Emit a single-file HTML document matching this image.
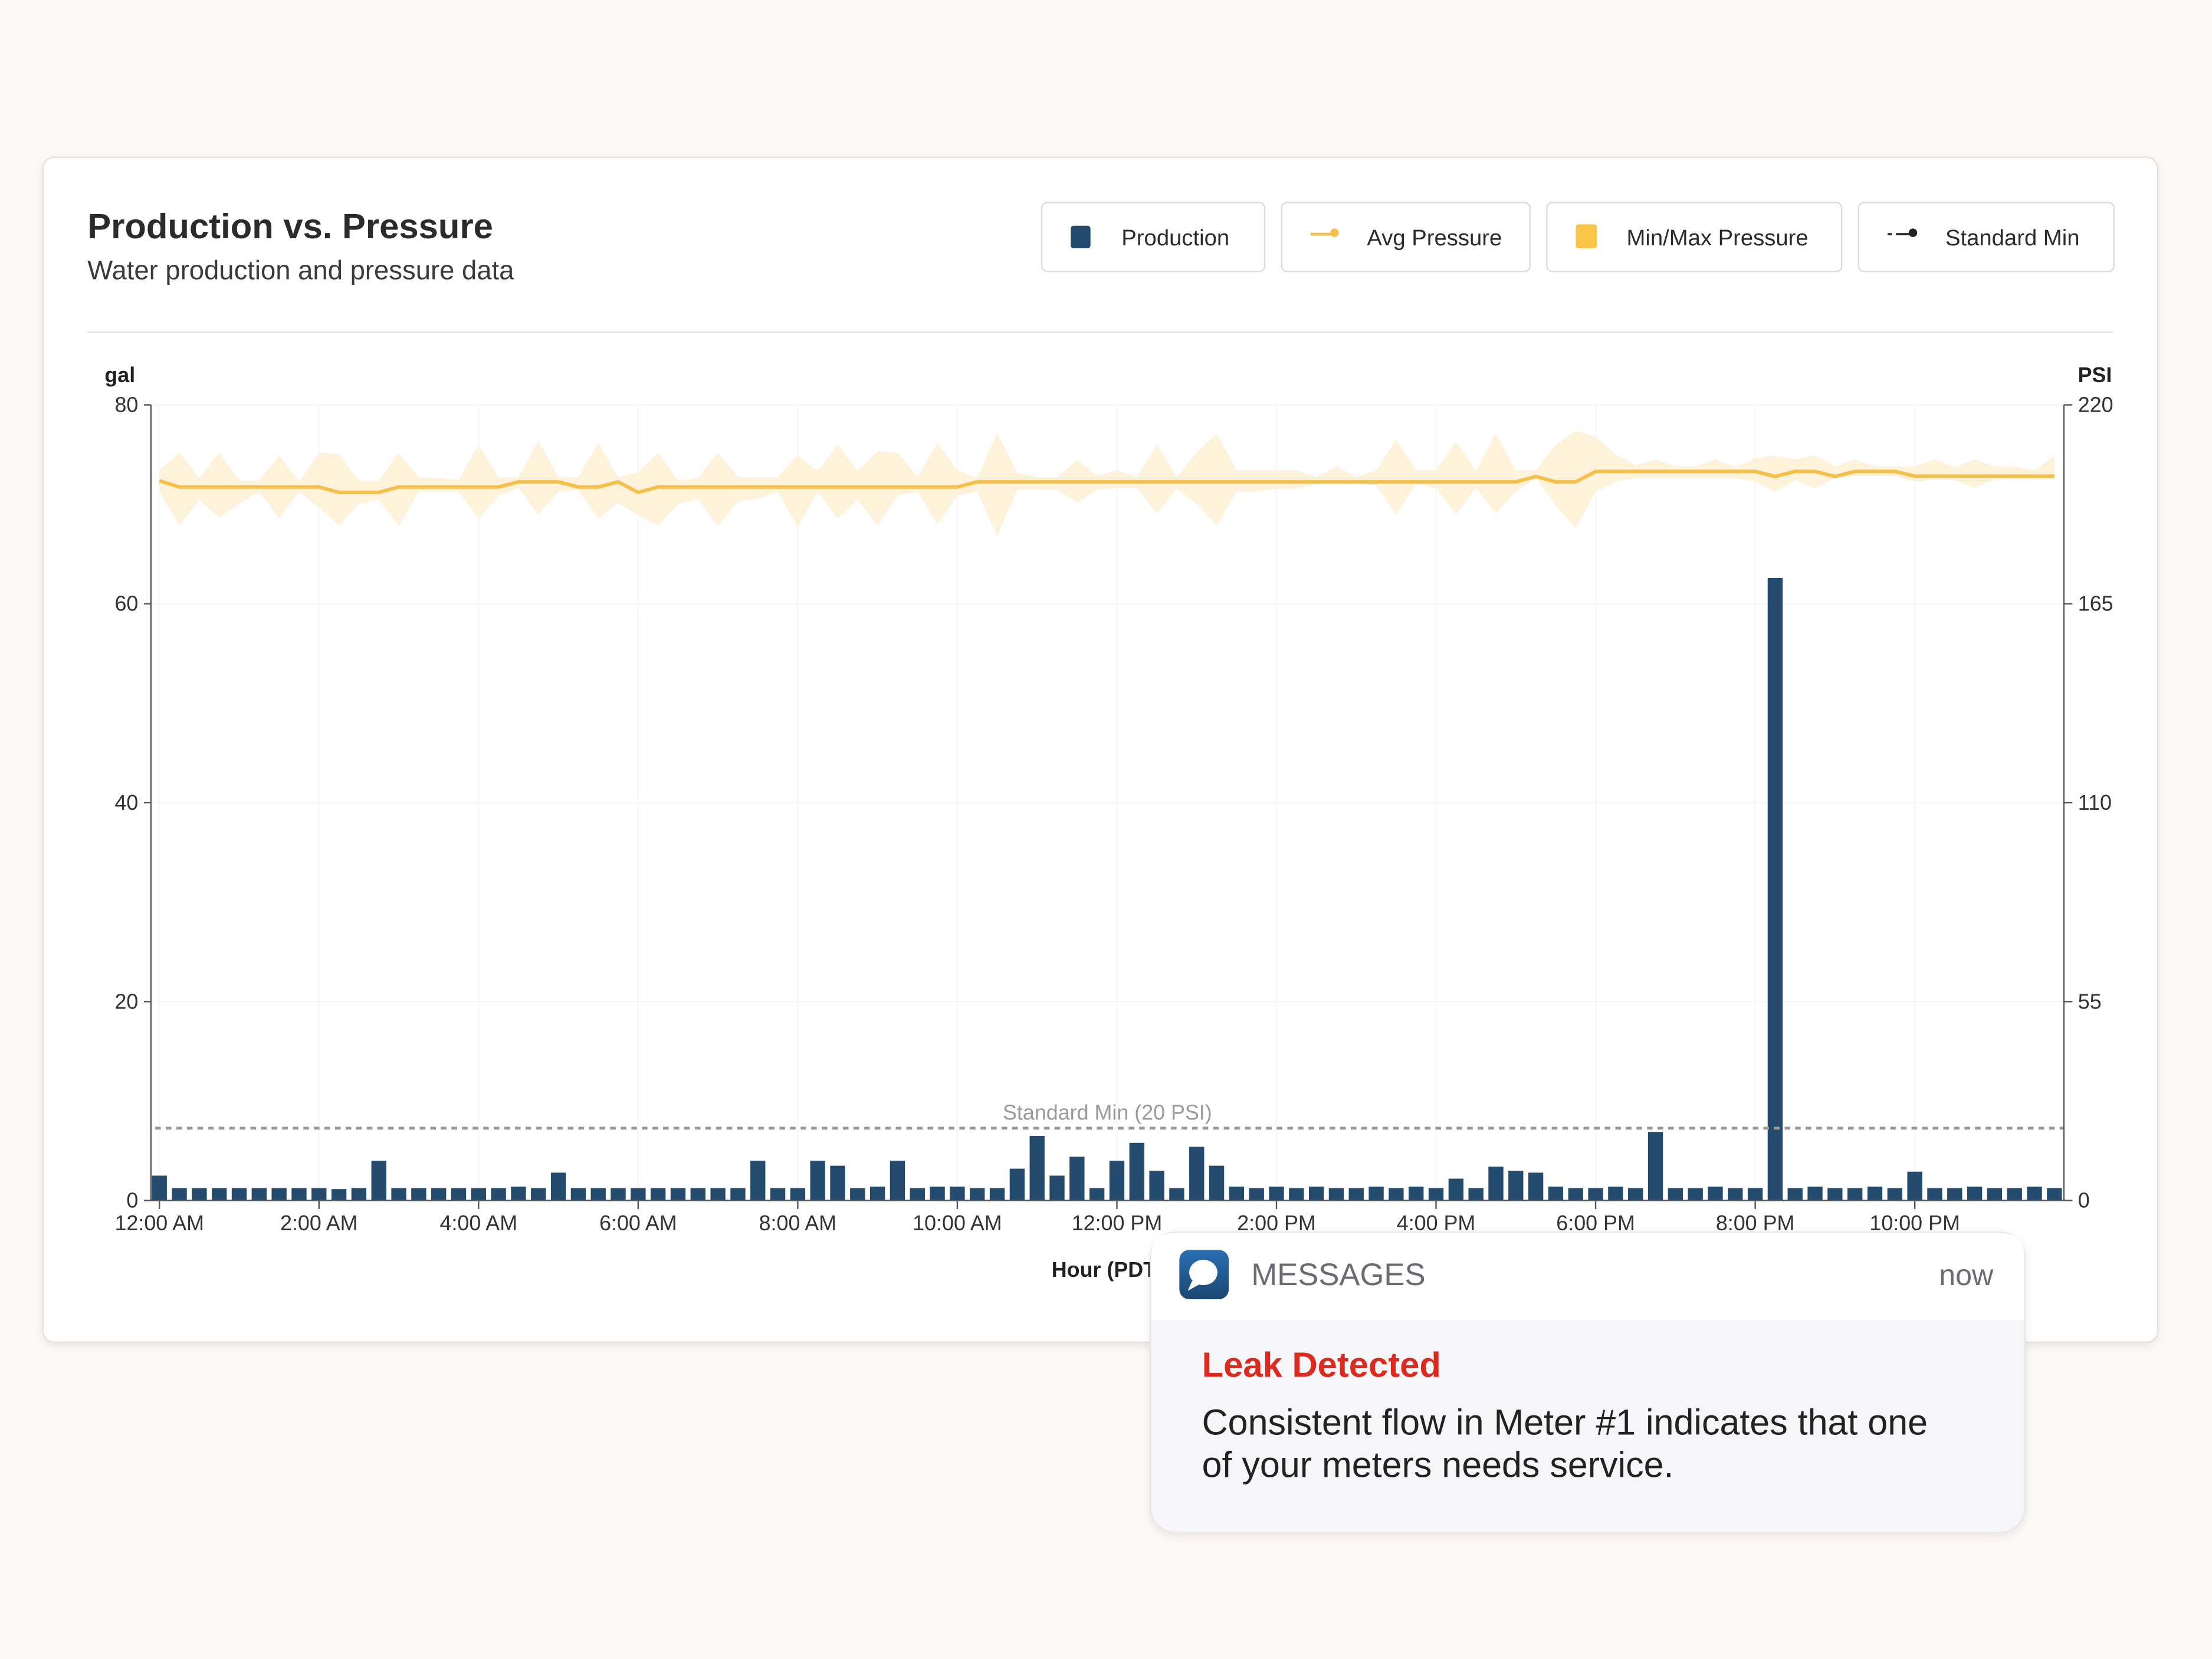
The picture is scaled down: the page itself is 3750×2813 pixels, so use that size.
<!DOCTYPE html>
<html><head><meta charset="utf-8">
<style>
html,body{margin:0;padding:0;background:#fcf9f7;}
svg{display:block;}
text{font-family:"Liberation Sans",sans-serif;}
</style></head>
<body>
<svg id="root" width="3750" height="2813" viewBox="0 0 1568 1176" preserveAspectRatio="none" xmlns="http://www.w3.org/2000/svg">
<defs>
<filter id="sh" x="-10%" y="-10%" width="120%" height="130%"><feDropShadow dx="0" dy="2" stdDeviation="3" flood-color="#000" flood-opacity="0.08"/></filter>
<linearGradient id="ig" x1="0" y1="0" x2="0" y2="1"><stop offset="0" stop-color="#2a6fb3"/><stop offset="1" stop-color="#1c4670"/></linearGradient>
</defs>
<rect x="0" y="0" width="1568" height="1176" fill="#fcf9f7"/>
<rect x="30.5" y="111.5" width="1499" height="840" rx="8" fill="#fff" stroke="#e4e1df" filter="url(#sh)"/>
<text x="62" y="169" font-size="25" font-weight="bold" fill="#2b2b2b">Production vs. Pressure</text>
<text x="62" y="198" font-size="19" fill="#3a3a3a">Water production and pressure data</text>

<g>
<g>
<rect x="738.5" y="143.5" width="158" height="49" rx="4" fill="#fff" stroke="#dcdcdc"/>
<rect x="759" y="160" width="14" height="16" rx="2" fill="#244a6e"/>
<text x="795" y="174" font-size="16" fill="#2b2b2b">Production</text></g>
<g>
<rect x="908.5" y="143.5" width="176" height="49" rx="4" fill="#fff" stroke="#dcdcdc"/>
<line x1="929" y1="166" x2="945" y2="166" stroke="#f5c04a" stroke-width="2"/><circle cx="946" cy="165" r="3" fill="#f5c04a"/>
<text x="969" y="174" font-size="16" fill="#2b2b2b">Avg Pressure</text></g>
<g>
<rect x="1096.5" y="143.5" width="209" height="49" rx="4" fill="#fff" stroke="#dcdcdc"/>
<rect x="1117" y="159" width="15" height="17" rx="2" fill="#f7c548"/>
<text x="1153" y="174" font-size="16" fill="#2b2b2b">Min/Max Pressure</text></g>
<g>
<rect x="1317.5" y="143.5" width="181" height="49" rx="4" fill="#fff" stroke="#dcdcdc"/>
<line x1="1338" y1="166" x2="1341" y2="166" stroke="#222" stroke-width="1.5"/><line x1="1344" y1="166" x2="1354" y2="166" stroke="#222" stroke-width="1.5"/><circle cx="1356" cy="165" r="3" fill="#222"/>
<text x="1379" y="174" font-size="16" fill="#2b2b2b">Standard Min</text></g>
</g>
<line x1="62" y1="235.5" x2="1498" y2="235.5" stroke="#e2e2e2"/>

<g id="chart"></g>

<g filter="url(#sh)">
<rect x="815.5" y="873.5" width="620" height="213" rx="18" fill="#f6f5f8" stroke="#e6e5ea"/>
<path d="M816 936 V891 Q816 874 833 874 H1417 Q1435 874 1435 891 V936 Z" fill="#fff"/>
</g>
<g>
<rect x="836" y="886" width="35" height="35" rx="7" fill="url(#ig)"/>
<ellipse cx="853" cy="902" rx="10" ry="9" fill="#fff"/><path d="M845 908 L842 915 L851 910 Z" fill="#fff"/>
</g>
<text x="887" y="911" font-size="22" fill="#6c6b74">MESSAGES</text>
<text x="1413" y="911" font-size="21" fill="#6c6b74" text-anchor="end">now</text>
<text x="852" y="976" font-size="25" font-weight="bold" fill="#dc2a1e">Leak Detected</text>
<text x="852" y="1017" font-size="25.5" fill="#222">Consistent flow in Meter #1 indicates that one</text>
<text x="852" y="1047" font-size="25.5" fill="#222">of your meters needs service.</text>
</svg>
<script>
const production = [2.5,1.25,1.25,1.25,1.25,1.25,1.25,1.25,1.25,1.15,1.25,4.0,1.25,1.25,1.25,1.25,1.25,1.25,1.4,1.25,2.8,1.25,1.25,1.25,1.25,1.25,1.25,1.25,1.25,1.25,4.0,1.25,1.25,4.0,3.5,1.25,1.4,4.0,1.25,1.4,1.4,1.25,1.25,3.2,6.5,2.5,4.4,1.25,4.0,5.8,3.0,1.25,5.4,3.5,1.4,1.25,1.4,1.25,1.4,1.25,1.25,1.4,1.25,1.4,1.25,2.2,1.25,3.4,3.0,2.8,1.4,1.25,1.25,1.4,1.25,6.9,1.25,1.25,1.4,1.25,1.25,62.6,1.25,1.4,1.25,1.25,1.4,1.25,2.9,1.25,1.25,1.4,1.25,1.25,1.4,1.25];
const avgPressure = [199,197.3,197.3,197.3,197.3,197.3,197.3,197.3,197.3,195.8,195.8,195.8,197.3,197.3,197.3,197.3,197.3,197.3,198.7,198.7,198.7,197.3,197.3,198.7,195.8,197.3,197.3,197.3,197.3,197.3,197.3,197.3,197.3,197.3,197.3,197.3,197.3,197.3,197.3,197.3,197.3,198.7,198.7,198.7,198.7,198.7,198.7,198.7,198.7,198.7,198.7,198.7,198.7,198.7,198.7,198.7,198.7,198.7,198.7,198.7,198.7,198.7,198.7,198.7,198.7,198.7,198.7,198.7,198.7,200.2,198.7,198.7,201.6,201.6,201.6,201.6,201.6,201.6,201.6,201.6,201.6,200.2,201.6,201.6,200.2,201.6,201.6,201.6,200.3,200.3,200.3,200.3,200.3,200.3,200.3,200.3];
const maxPressure = [202,206.8,199.8,206.8,199,199,206,198.7,206.8,206.3,199,199,206.8,200,199.8,199.2,209,200,200,210.1,200,200,209.5,200,201.4,206.8,199,199.8,206.8,200,200,200,206,201.7,209,201.7,207.1,206.8,200,209.5,202,199.8,212.3,201.1,200,200,204.9,200.3,202,200,209,200,206.8,212,201.9,201.9,201.9,201.9,200,203,200,201.9,210.4,201.9,201.9,209.8,201.7,212,201.9,201.9,209,212.8,211.2,206.3,203.3,204.9,203,203,204.9,202.8,205.2,206,204.9,206,203,204.9,203,203,203,204.9,202.8,204.9,203,203,201.9,206];
const minPressure = [196,186.7,193.8,188.9,192.7,196,188.6,196,191.6,186.7,192.7,193.8,186.5,196,196,196,188.6,194.9,197,189.7,196,196.5,188.6,193,189.4,186.7,192.7,193.8,186.5,193.3,194.1,196,186.2,196,188.6,193.8,186.7,194.9,196,187,194.9,196,183.7,196.5,196.5,196.5,193,196.5,197,197,190,196.8,192.7,186.7,196,196,196.8,196.8,198.1,198.1,198.1,197.9,189.7,198.1,197,189.7,197,190,196,199.8,192.2,185.9,196,198.7,199.8,199.8,199.8,199.8,199.8,199.8,198.7,196,199.2,197,199.8,200.3,200.3,200.3,198.7,199.5,199.2,197,199.5,199.5,199.5,199.5];
const galTicks = [0,20,40,60,80];
const psiTicks = [0,55,110,165,220];
const hourLabels = ["12:00 AM","2:00 AM","4:00 AM","6:00 AM","8:00 AM","10:00 AM","12:00 PM","2:00 PM","4:00 PM","6:00 PM","8:00 PM","10:00 PM"];
const standardMin = 20;

const NS="http://www.w3.org/2000/svg";
const g=document.getElementById('chart');
const L=107,R=1463,T=287,B=851;
const xIdx=i=>113+i*14.14;
const yGal=v=>B-v*(B-T)/80;
const yPsi=p=>B-p*(B-T)/220;
function mk(tag,at){const e=document.createElementNS(NS,tag);for(const k in at)e.setAttribute(k,at[k]);g.appendChild(e);return e;}

galTicks.forEach(v=>{const e=mk('line',{x1:L,x2:R,y1:yGal(v),y2:yGal(v),stroke:'#f7f7f7'});

});
hourLabels.forEach((h,k)=>{const x=xIdx(k*8);const e=mk('line',{x1:x,x2:x,y1:T,y2:B,stroke:'#f7f7f7'});

});

let up=maxPressure.map((p,i)=>xIdx(i)+','+yPsi(p));
let dn=minPressure.map((p,i)=>xIdx(i)+','+yPsi(p)).reverse();
const band=mk('polygon',{points:up.concat(dn).join(' '),fill:'#fff1d6',opacity:'0.9'});


const avg=mk('polyline',{points:avgPressure.map((p,i)=>xIdx(i)+','+yPsi(p)).join(' '),fill:'none',stroke:'#f5c04a','stroke-width':2.5,'stroke-linejoin':'round'});



production.forEach((v,i)=>{const y=yGal(v);const r=mk('rect',{x:xIdx(i)-5.3,y:y,width:10.6,height:B-y,fill:'#244a6e'});

});

const sy=yPsi(standardMin);
const sl=mk('line',{x1:L+3,x2:R,y1:sy,y2:sy,stroke:'#9a9a9a','stroke-width':2,'stroke-dasharray':'4 3.5'});


const st=mk('text',{x:785,y:sy-6,'font-size':15,fill:'#9a9a9a','text-anchor':'middle'});st.textContent='Standard Min ('+standardMin+' PSI)';



const ax=[[L,T,L,B,'left-axis-line'],[R,T,R,B,'right-axis-line'],[L,B,R+6,B,'x-axis-line']];
ax.forEach(a=>{const e=mk('line',{x1:a[0],y1:a[1],x2:a[2],y2:a[3],stroke:'#555','stroke-width':1});

});
galTicks.forEach(v=>{const y=yGal(v);mk('line',{x1:L-5,x2:L,y1:y,y2:y,stroke:'#555'});
const t=mk('text',{x:L-9,y:y+5,'font-size':15,fill:'#333','text-anchor':'end'});t.textContent=v;

});
psiTicks.forEach(v=>{const y=yPsi(v);mk('line',{x1:R,x2:R+6,y1:y,y2:y,stroke:'#555'});
const t=mk('text',{x:R+10,y:y+5,'font-size':15,fill:'#333'});t.textContent=v;

});
hourLabels.forEach((h,k)=>{const x=xIdx(k*8);mk('line',{x1:x,x2:x,y1:B,y2:B+6,stroke:'#555'});
const t=mk('text',{x:x,y:872,'font-size':15,fill:'#333','text-anchor':'middle'});t.textContent=h;

});
const gt=mk('text',{x:85,y:271,'font-size':15,'font-weight':'bold',fill:'#222','text-anchor':'middle'});gt.textContent='gal';


const pt=mk('text',{x:1485,y:271,'font-size':15,'font-weight':'bold',fill:'#222','text-anchor':'middle'});pt.textContent='PSI';


const xt=mk('text',{x:785,y:905,'font-size':15,'font-weight':'bold',fill:'#222','text-anchor':'middle'});xt.textContent='Hour (PDT)';


</script>
</body></html>
